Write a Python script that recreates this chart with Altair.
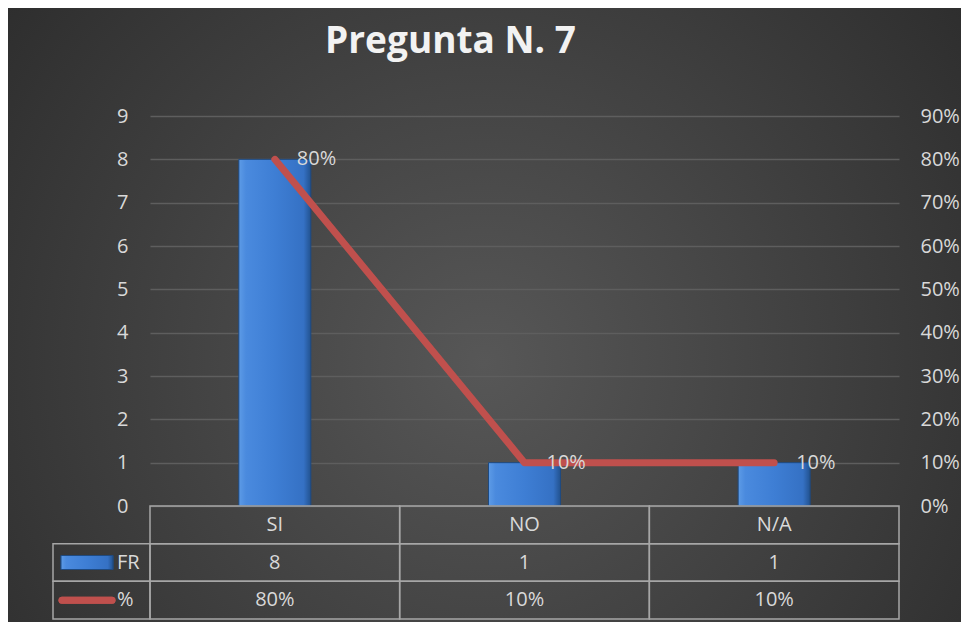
import altair as alt
import pandas as pd

# ---- data ----
categories = ["SI", "NO", "N/A"]
fr_values = [8, 1, 1]
pct_values = [0.80, 0.10, 0.10]
left_ticks = [0, 1, 2, 3, 4, 5, 6, 7, 8, 9]
right_ticks = [0, 0.1, 0.2, 0.3, 0.4, 0.5, 0.6, 0.7, 0.8, 0.9]
table_rows = ["cat", "FR", "%"]
series_names = ["FR", "%"]
title_text = "Pregunta N. 7"

# ---- styling / layout constants ----
FONT = "Open Sans"
TXT = "#d9d9d9"
GRID = "#5e5e5e"
BORDER = "#a6a6a6"
RED = "#c0504d"
PLOT_W, PLOT_H = 749, 390
LEG_W = 97
TABLE_H = 113
BAR_W = 72
FS = 20

df = pd.DataFrame({"cat": categories, "fr": fr_values, "pct": pct_values})

xscale = alt.Scale(domain=categories, paddingInner=0, paddingOuter=0)
row_scale = alt.Scale(domain=table_rows, paddingInner=0, paddingOuter=0)

# ---- background panel (radial glow like the Excel chart area) ----
bg = (
    alt.Chart(pd.DataFrame({"k": [0]}))
    .mark_rect(
        fill=alt.RadialGradient(
            gradient="radial",
            stops=[
                alt.GradientStop(offset=0, color="#575757"),
                alt.GradientStop(offset=1, color="#242424"),
            ],
            x1=0.5, y1=0.55, r1=0, x2=0.5, y2=0.55, r2=0.78,
        )
    )
    .encode(x=alt.value(-45), x2=alt.value(908), y=alt.value(-108), y2=alt.value(506))
    .properties(width=LEG_W, height=PLOT_H)
)

# ---- main combo chart ----
base = alt.Chart(df).encode(x=alt.X("cat:N", sort=categories, scale=xscale, axis=None))

bar_fill = alt.LinearGradient(
    gradient="linear",
    stops=[
        alt.GradientStop(offset=0, color="#5d9be6"),
        alt.GradientStop(offset=0.1, color="#4a8ade"),
        alt.GradientStop(offset=0.5, color="#3e7ed4"),
        alt.GradientStop(offset=0.9, color="#3571c4"),
        alt.GradientStop(offset=1, color="#22528f"),
    ],
    x1=0, x2=1, y1=0, y2=0,
)

bars = base.mark_bar(size=BAR_W, fill=bar_fill, stroke="#1f4a80", strokeWidth=1).encode(
    y=alt.Y(
        "fr:Q",
        scale=alt.Scale(domain=[0, 9], nice=False),
        axis=alt.Axis(
            orient="left", values=left_ticks, grid=True, gridColor=GRID, gridWidth=1.5,
            domain=False, ticks=False, labelColor=TXT, labelFont=FONT, labelFontSize=FS,
            labelPadding=22, title=None,
        ),
    )
)

pct_scale = alt.Scale(domain=[0, 0.9], nice=False)

line = base.mark_line(color=RED, strokeWidth=7, strokeCap="round", strokeJoin="round").encode(
    y=alt.Y(
        "pct:Q",
        scale=pct_scale,
        axis=alt.Axis(
            orient="right", values=right_ticks, format=".0%", grid=False, domain=False,
            ticks=False, labelColor=TXT, labelFont=FONT, labelFontSize=FS, labelPadding=21,
            title=None,
        ),
    )
)

labels = base.mark_text(align="left", baseline="middle", dx=22, color=TXT, font=FONT, fontSize=FS).encode(
    y=alt.Y("pct:Q", scale=pct_scale, axis=None),
    text=alt.Text("pct:Q", format=".0%"),
)

main = alt.layer(bars, line, labels).resolve_scale(y="independent").properties(width=PLOT_W, height=PLOT_H)

# ---- legend keys column of the data table ----
leg_x = alt.Scale(domain=[0, LEG_W], range=[0, LEG_W], nice=False, zero=False)
leg_df = pd.DataFrame({"row": series_names})
yrow = alt.Y("row:N", scale=row_scale, axis=None)

leg_box = alt.Chart(leg_df).mark_rect(fillOpacity=0, stroke=BORDER, strokeWidth=1.5).encode(y=yrow)
leg_bar = alt.Chart(leg_df).mark_bar(size=14, orient="horizontal", fill=bar_fill, stroke="#1f4a80").encode(
    x=alt.X(datum=8, type="quantitative", scale=leg_x, axis=None),
    x2=alt.X2(datum=60),
    y=alt.Y(datum="FR", type="nominal", scale=row_scale, axis=None),
)
leg_line = alt.Chart(leg_df).mark_rule(color=RED, strokeWidth=7, strokeCap="round").encode(
    x=alt.X(datum=9, type="quantitative", scale=leg_x, axis=None),
    x2=alt.X2(datum=59),
    y=alt.Y(datum="%", type="nominal", scale=row_scale, axis=None),
)
leg_text = alt.Chart(leg_df).mark_text(align="left", baseline="middle", color=TXT, font=FONT, fontSize=FS).encode(
    x=alt.X(datum=64, type="quantitative", scale=leg_x, axis=None),
    y=yrow,
    text="row:N",
)
legend = alt.layer(leg_box, leg_bar, leg_line, leg_text).properties(width=LEG_W, height=TABLE_H)

# ---- data table ----
cells = []
for c, f, p in zip(categories, fr_values, pct_values):
    cells.append({"cat": c, "row": "cat", "txt": c})
    cells.append({"cat": c, "row": "FR", "txt": str(f)})
    cells.append({"cat": c, "row": "%", "txt": f"{round(p * 100)}%"})
cells_df = pd.DataFrame(cells)

tx = alt.X("cat:N", sort=categories, scale=xscale, axis=None)
ty = alt.Y("row:N", scale=row_scale, axis=None)
tbl_box = alt.Chart(cells_df).mark_rect(fillOpacity=0, stroke=BORDER, strokeWidth=1.5).encode(x=tx, y=ty)
tbl_txt = alt.Chart(cells_df).mark_text(align="center", baseline="middle", color=TXT, font=FONT, fontSize=FS).encode(
    x=tx, y=ty, text="txt:N"
)
table = alt.layer(tbl_box, tbl_txt).properties(width=PLOT_W, height=TABLE_H)

chart = (
    alt.concat(
        bg, main, legend, table,
        columns=2, spacing=0, bounds="flush",
        title=alt.TitleParams(
            title_text, font=FONT, fontSize=37, fontWeight="bold", color="#f2f2f2",
            anchor="middle", frame="bounds", dx=-34, offset=-82, baseline="alphabetic", zindex=1,
        ),
    )
    .properties(background="#2b2b2b", padding=0)
    .configure_view(stroke=None)
)

chart.save("out.html", embed_options={"renderer": "svg", "actions": False})
